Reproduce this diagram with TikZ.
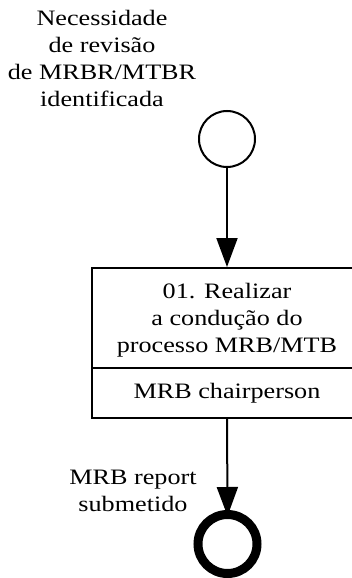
\documentclass[tikz,border=0pt]{standalone}
\usepackage{fontspec}
\setmainfont{Liberation Serif}[FakeStretch=1.19]
\usetikzlibrary{arrows.meta,positioning,calc}

\begin{document}
\begin{tikzpicture}[
  x=1pt, y=1pt,
  txt/.style={font=\fontsize{22}{27}\selectfont, align=center, inner sep=0pt},
  startev/.style={circle, draw, line width=2pt, minimum size=56pt, inner sep=0pt},
  endev/.style={circle, draw, line width=9pt, minimum size=59pt, inner sep=0pt},
  task/.style={rectangle, draw, line width=2pt, minimum width=270pt,
    minimum height=150pt, inner sep=0pt},
  flow/.style={-{Triangle[length=29pt, width=21pt]}, line width=2pt},
]
  \useasboundingbox (0,0) rectangle (352,-578);
  \clip (0,0) rectangle (352,-578);

  %% ---- Events ----
  \node[startev] (start) at (227,-139) {};
  \node[endev]   (end)   at (227.5,-544) {};

  %% ---- Task with lane ----
  \node[task] (task) at (227,-343) {};
  \coordinate (divl) at ($(task.north west)!0.667!(task.south west)$);
  \coordinate (divr) at ($(task.north east)!0.667!(task.south east)$);
  \draw[line width=2pt] (divl) -- (divr);
  \node[txt] (title) at (227,-320) {01. Realizar\\a condução do\\processo MRB/MTB};
  \node[txt] (lane)  at (227,-393) {MRB chairperson};

  %% ---- Labels ----
  \node[txt] (lblstart) at (102,-58) {Necessidade\\de revisão\\de MRBR/MTBR\\identificada};
  \node[txt] (lblend)   at (133,-491) {MRB report\\submetido};

  %% ---- Sequence flow ----
  \draw[flow] (start.south) -- (task.north);
  \draw[flow, shorten >=-6pt] (task.south) -- (end.north);

\end{tikzpicture}
\end{document}
